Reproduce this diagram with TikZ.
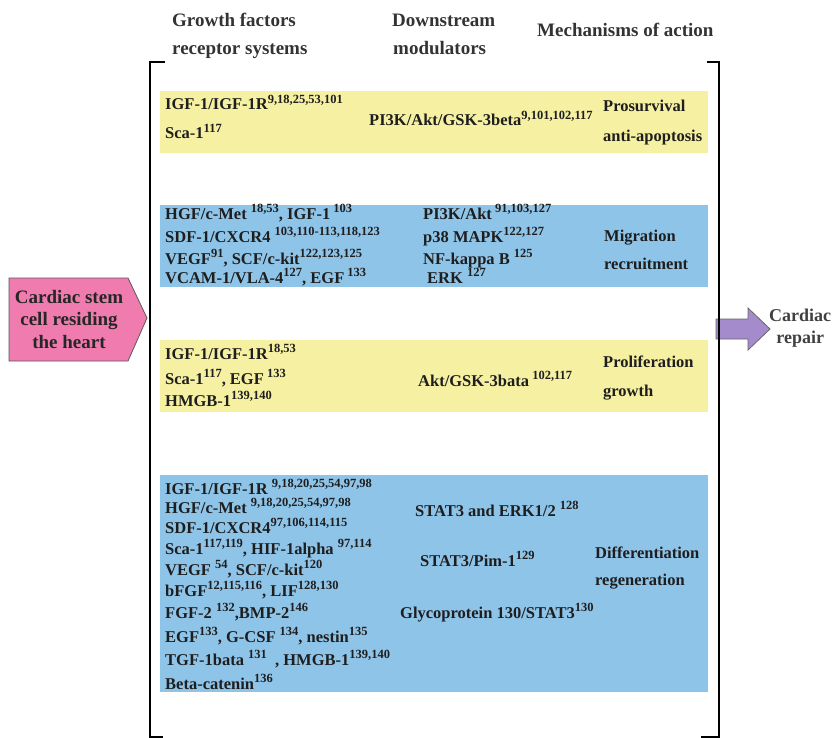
\documentclass[tikz,border=0pt]{standalone}
\usepackage{fontspec}
\setmainfont{Liberation Serif}
\definecolor{ybox}{HTML}{F6F1A2}
\definecolor{bbox}{HTML}{8FC4E9}
\definecolor{pinkf}{HTML}{F07BAF}
\definecolor{purpf}{HTML}{A48BCB}
\definecolor{txt}{HTML}{1E1E1E}
\newcommand\sups[1]{\raisebox{0.42em}{\fontsize{12.5}{12.5}\selectfont #1}}
\begin{document}
\begin{tikzpicture}[x=1pt,y=-1pt,
  lbl/.style={anchor=base west, inner sep=0pt, text=txt, font=\bfseries\fontsize{16.5}{18}\selectfont},
  hdr/.style={anchor=base west, inner sep=0pt, text=black!80, font=\bfseries\fontsize{19}{21}\selectfont},
  panel/.style={anchor=north west, inner sep=0pt, draw=none, minimum width=548pt},
  brk/.style={line width=2.6pt, black},
]
\useasboundingbox (0,0) rectangle (835,738);
% panels
\node[panel, fill=ybox, minimum height=62pt] (p1) at (160,91) {};
\node[panel, fill=bbox, minimum height=82pt] (p2) at (160,205) {};
\node[panel, fill=ybox, minimum height=72pt] (p3) at (160,340) {};
\node[panel, fill=bbox, minimum height=217pt] (p4) at (160,475) {};
% purple arrow (under bracket)
\draw[fill=purpf, draw=black!60, line width=0.8pt] (716,319) -- (748,319) -- (748,308) -- (770,329) -- (748,350) -- (748,339) -- (716,339) -- cycle;
% brackets
\draw[brk] (165,62) -- (150,62) -- (150,737) -- (163,737);
\draw[brk] (707,62) -- (719,62) -- (719,737) -- (701,737);
% pink arrow
\draw[fill=pinkf, draw=black!65, line width=0.8pt] (9,278) -- (128,278) -- (147,318) -- (128,361) -- (9,361) -- cycle;
\node[font=\bfseries\fontsize{19}{22.5}\selectfont, text=black!85, align=center, inner sep=0pt] (csc) at (69,319) {Cardiac stem\\cell residing\\the heart};
\node[font=\bfseries\fontsize{18}{22}\selectfont, text=black!75, align=center, inner sep=0pt, anchor=north west] (rep) at (769,309) {Cardiac\\repair};
% headers
\node[hdr] (h1a) at (172,27) {Growth factors};
\node[hdr] (h1b) at (172,55) {receptor systems};
\node[hdr] (h2a) at (392,27) {Downstream};
\node[hdr] (h2b) at (393,55) {modulators};
\node[hdr] (h3) at (537,37) {Mechanisms of action};
% panel 1
\node[lbl] (a1) at (165,110) {IGF-1/IGF-1R\sups{9,18,25,53,101}};
\node[lbl] (a2) at (165,139) {Sca-1\sups{117}};
\node[lbl] (a3) at (369,126) {PI3K/Akt/GSK-3beta\sups{9,101,102,117}};
\node[lbl] (a4) at (603,112) {Prosurvival};
\node[lbl] (a5) at (603,142) {anti-apoptosis};
% panel 2
\node[lbl] (b1) at (165,219) {HGF/c-Met \sups{18,53}, IGF-1\sups{ 103}};
\node[lbl] (b2) at (165,242) {SDF-1/CXCR4 \sups{103,110-113,118,123}};
\node[lbl] (b3) at (165,264) {VEGF\sups{91}, SCF/c-kit\sups{122,123,125}};
\node[lbl] (b4) at (165,283) {VCAM-1/VLA-4\sups{127}, EGF\sups{ 133}};
\node[lbl] (b5) at (423,219) {PI3K/Akt\sups{ 91,103,127}};
\node[lbl] (b6) at (423,242) {p38 MAPK\sups{122,127}};
\node[lbl] (b7) at (423,264) {NF-kappa B \sups{125}};
\node[lbl] (b8) at (427,283) {ERK \sups{127}};
\node[lbl] (b9) at (604,241) {Migration};
\node[lbl] (b10) at (604,269) {recruitment};
% panel 3
\node[lbl] (c1) at (165,359) {IGF-1/IGF-1R\sups{18,53}};
\node[lbl] (c2) at (165,384) {Sca-1\sups{117}, EGF\sups{ 133}};
\node[lbl] (c3) at (165,406) {HMGB-1\sups{139,140}};
\node[lbl] (c4) at (418,386) {Akt/GSK-3bata\sups{ 102,117}};
\node[lbl] (c5) at (603,367) {Proliferation};
\node[lbl] (c6) at (603,396) {growth};
% panel 4
\node[lbl] (d1) at (165,494) {IGF-1/IGF-1R \sups{9,18,20,25,54,97,98}};
\node[lbl] (d2) at (165,513) {HGF/c-Met \sups{9,18,20,25,54,97,98}};
\node[lbl] (d3) at (165,533) {SDF-1/CXCR4\sups{97,106,114,115}};
\node[lbl] (d4) at (165,554) {Sca-1\sups{117,119}, HIF-1alpha \sups{97,114}};
\node[lbl] (d5) at (165,575) {VEGF \sups{54}, SCF/c-kit\sups{120}};
\node[lbl] (d6) at (165,596) {bFGF\sups{12,115,116}, LIF\sups{128,130}};
\node[lbl] (d7) at (165,618) {FGF-2 \sups{132},BMP-2\sups{146}};
\node[lbl] (d8) at (165,642) {EGF\sups{133}, G-CSF \sups{134}, nestin\sups{135}};
\node[lbl] (d9) at (165,665) {TGF-1bata \sups{131} \ , HMGB-1\sups{139,140}};
\node[lbl] (d10) at (165,689) {Beta-catenin\sups{136}};
\node[lbl] (d11) at (415,516) {STAT3 and ERK1/2 \sups{128}};
\node[lbl] (d12) at (420,566) {STAT3/Pim-1\sups{129}};
\node[lbl] (d13) at (400,618) {Glycoprotein 130/STAT3\sups{130}};
\node[lbl] (d14) at (595,558) {Differentiation};
\node[lbl] (d15) at (595,585) {regeneration};
\end{tikzpicture}
\end{document}
